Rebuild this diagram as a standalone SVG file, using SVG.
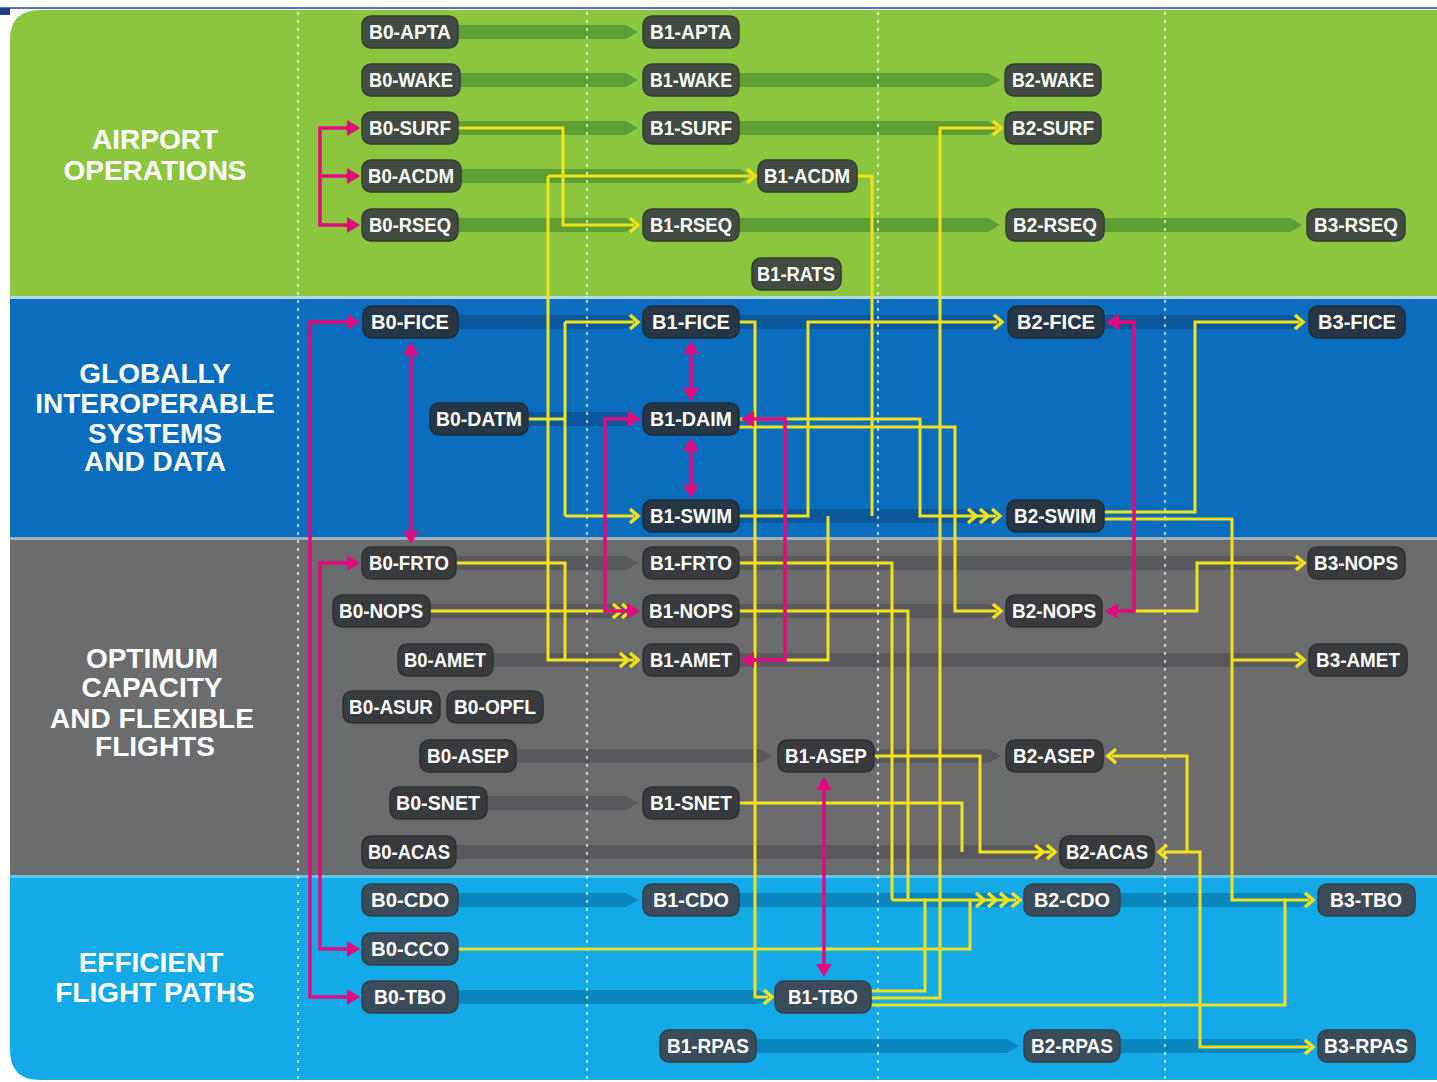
<svg xmlns="http://www.w3.org/2000/svg" xmlns:xlink="http://www.w3.org/1999/xlink" width="1437" height="1082" viewBox="0 0 1437 1082">
<style>
.nd text{font-family:"Liberation Sans",Arial,sans-serif;font-weight:bold;font-size:20px;fill:#fff;text-anchor:middle}
.lab{font-family:"Liberation Sans",Arial,sans-serif;font-weight:bold;font-size:28px;fill:#fff;text-anchor:middle}
.ng{fill:#414b41;stroke:#333b33;stroke-width:1.5}
.nb{fill:#263645;stroke:#1e2c3a;stroke-width:1.5}
.nk{fill:#393a3d;stroke:#2e2f31;stroke-width:1.5}
.nc{fill:#3a4c59;stroke:#2f3f4b;stroke-width:1.5}
.bg{fill:#5e9e32}.bb{fill:#0a579c}.bk{fill:#58595c}.bc{fill:#0a86be}
.dot{stroke:#fff;stroke-width:2;stroke-dasharray:3 5;opacity:.7}
.y{fill:none;stroke:#f2e21b;stroke-width:3;stroke-linejoin:miter}
.m{fill:none;stroke:#e5097f;stroke-width:3.5}
</style>
<defs>
<clipPath id="panel"><path d="M40,10 H1437 V1080 H40 Q10,1080 10,1050 V40 Q10,10 40,10 Z"/></clipPath>
<path id="cR" d="M-8,-7 L0,0 L-8,7" fill="none" stroke="#f2e21b" stroke-width="3.5"/>
<path id="cL" d="M8,-7 L0,0 L8,7" fill="none" stroke="#f2e21b" stroke-width="3.5"/>
<path id="tR" d="M-13,-8 L0,0 L-13,8 Z" fill="#e5097f"/>
<path id="tL" d="M13,-8 L0,0 L13,8 Z" fill="#e5097f"/>
<path id="tU" d="M-8,13 L0,0 L8,13 Z" fill="#e5097f"/>
<path id="tD" d="M-8,-13 L0,0 L8,-13 Z" fill="#e5097f"/>
</defs>
<rect width="1437" height="1082" fill="#ffffff"/>
<line x1="0" y1="8" x2="1437" y2="8" stroke="#1f3f8f" stroke-width="1.5"/>
<rect x="0" y="8" width="10" height="7" fill="#1f3f8f"/>

<g id="bands" clip-path="url(#panel)">
<rect x="0" y="0" width="1437" height="298" fill="#8cc63f"/>
<rect x="0" y="298" width="1437" height="240" fill="#0b6dbd"/>
<rect x="0" y="538" width="1437" height="338" fill="#6b6c6e"/>
<rect x="0" y="876" width="1437" height="206" fill="#14aae8"/>
<rect x="0" y="296" width="1437" height="3" fill="#b3dbe6"/>
<rect x="0" y="537" width="1437" height="3" fill="#9fb0bd"/>
<rect x="0" y="875" width="1437" height="3" fill="#5cc8ee"/>
</g>

<g id="sections">
<text class="lab" x="155" y="149">AIRPORT</text>
<text class="lab" x="155" y="180">OPERATIONS</text>
<text class="lab" x="155" y="383">GLOBALLY</text>
<text class="lab" x="155" y="413">INTEROPERABLE</text>
<text class="lab" x="155" y="443">SYSTEMS</text>
<text class="lab" x="155" y="471">AND DATA</text>
<text class="lab" x="152" y="668">OPTIMUM</text>
<text class="lab" x="152" y="697">CAPACITY</text>
<text class="lab" x="152" y="728">AND FLEXIBLE</text>
<text class="lab" x="155" y="756">FLIGHTS</text>
<text class="lab" x="151" y="972">EFFICIENT</text>
<text class="lab" x="155" y="1002">FLIGHT PATHS</text>
</g>

<g id="bars">
<path class="bg" d="M458,25 H626 L638,32 L626,39 H458 Z"/>
<path class="bg" d="M460,73 H626 L638,80 L626,87 H460 Z"/>
<path class="bg" d="M739,73 H988 L1000,80 L988,87 H739 Z"/>
<path class="bg" d="M458,121 H626 L638,128 L626,135 H458 Z"/>
<path class="bg" d="M739,121 H988 L1000,128 L988,135 H739 Z"/>
<path class="bg" d="M460,169 H740 L752,176 L740,183 H460 Z"/>
<path class="bg" d="M458,218 H626 L638,225 L626,232 H458 Z"/>
<path class="bg" d="M739,218 H988 L1000,225 L988,232 H739 Z"/>
<path class="bg" d="M1104,218 H1290 L1302,225 L1290,232 H1104 Z"/>
<path class="bb" d="M458,315 H626 L638,322 L626,329 H458 Z"/>
<path class="bb" d="M739,315 H991 L1003,322 L991,329 H739 Z"/>
<path class="bb" d="M1104,315 H1292 L1304,322 L1292,329 H1104 Z"/>
<path class="bb" d="M528,412 H626 L638,419 L626,426 H528 Z"/>
<path class="bb" d="M739,509 H990 L1002,516 L990,523 H739 Z"/>
<path class="bk" d="M456,556 H626 L638,563 L626,570 H456 Z"/>
<path class="bk" d="M739,556 H1291 L1303,563 L1291,570 H739 Z"/>
<path class="bk" d="M430,604 H626 L638,611 L626,618 H430 Z"/>
<path class="bk" d="M739,604 H989 L1001,611 L989,618 H739 Z"/>
<path class="bk" d="M493,653 H626 L638,660 L626,667 H493 Z"/>
<path class="bk" d="M739,653 H1292 L1304,660 L1292,667 H739 Z"/>
<path class="bk" d="M516,749 H760 L772,756 L760,763 H516 Z"/>
<path class="bk" d="M874,749 H989 L1001,756 L989,763 H874 Z"/>
<path class="bk" d="M487,796 H626 L638,803 L626,810 H487 Z"/>
<path class="bk" d="M456,845 H1043 L1055,852 L1043,859 H456 Z"/>
<path class="bc" d="M458,893 H626 L638,900 L626,907 H458 Z"/>
<path class="bc" d="M739,893 H1007 L1019,900 L1007,907 H739 Z"/>
<path class="bc" d="M1120,893 H1301 L1313,900 L1301,907 H1120 Z"/>
<path class="bc" d="M458,990 H758 L770,997 L758,1004 H458 Z"/>
<path class="bc" d="M756,1039 H1007 L1019,1046 L1007,1053 H756 Z"/>
<path class="bc" d="M1120,1039 H1301 L1313,1046 L1301,1053 H1120 Z"/>
</g>

<g id="columns">
<line class="dot" x1="298" y1="12" x2="298" y2="1080"/>
<line class="dot" x1="587" y1="12" x2="587" y2="1080"/>
<line class="dot" x1="878" y1="12" x2="878" y2="1080"/>
<line class="dot" x1="1165" y1="12" x2="1165" y2="1080"/>
</g>

<g id="connectors">
<g id="yellow">
<path class="y" d="M458,128 H563 V225 H634"/>
<path class="y" d="M528,419 H565 M565,322 V516 M565,322 H634 M565,516 H634"/>
<path class="y" d="M548,176 H751 M548,176 V660 H634"/>
<path class="y" d="M456,563 H565 V660"/>
<path class="y" d="M430,611 H620"/>
<path class="y" d="M739,322 H755 V997 H768"/>
<path class="y" d="M739,516 H808 V322 H997"/>
<path class="y" d="M739,419 H920 V516 H996"/>
<path class="y" d="M739,427 H955 V611 H997"/>
<path class="y" d="M857,176 H872 V516"/>
<path class="y" d="M785,660 H828 V516"/>
<path class="y" d="M871,998 H940 V128 H997"/>
<path class="y" d="M871,991 H925 V900"/>
<path class="y" d="M871,1005 H1285 V900"/>
<path class="y" d="M739,563 H892 V900"/>
<path class="y" d="M739,611 H908 V900"/>
<path class="y" d="M458,949 H970 V900"/>
<path class="y" d="M892,900 H1016"/>
<path class="y" d="M874,756 H980 V852 H1051"/>
<path class="y" d="M739,803 H962 V852"/>
<path class="y" d="M1104,512 H1195 V322 H1299"/>
<path class="y" d="M1104,519 H1232 V900 H1309 M1232,660 H1300"/>
<path class="y" d="M1134,611 H1197 V563 H1300"/>
<path class="y" d="M1163,852 H1200 V1047 H1309 M1187,852 V756 H1112"/>
<use xlink:href="#cR" x="638" y="225"/>
<use xlink:href="#cR" x="638" y="322"/>
<use xlink:href="#cR" x="638" y="516"/>
<use xlink:href="#cR" x="755" y="176"/>
<use xlink:href="#cR" x="1001" y="128"/>
<use xlink:href="#cR" x="1002" y="322"/>
<use xlink:href="#cR" x="1303" y="322"/>
<use xlink:href="#cR" x="976" y="516"/>
<use xlink:href="#cR" x="988" y="516"/>
<use xlink:href="#cR" x="1000" y="516"/>
<use xlink:href="#cR" x="621" y="611"/>
<use xlink:href="#cR" x="630" y="611"/>
<use xlink:href="#cR" x="628" y="660"/>
<use xlink:href="#cR" x="638" y="660"/>
<use xlink:href="#cR" x="1001" y="611"/>
<use xlink:href="#cR" x="1304" y="563"/>
<use xlink:href="#cR" x="1304" y="660"/>
<use xlink:href="#cL" x="1108" y="756"/>
<use xlink:href="#cR" x="1043" y="852"/>
<use xlink:href="#cR" x="1055" y="852"/>
<use xlink:href="#cL" x="1159" y="852"/>
<use xlink:href="#cR" x="984" y="900"/>
<use xlink:href="#cR" x="996" y="900"/>
<use xlink:href="#cR" x="1008" y="900"/>
<use xlink:href="#cR" x="1020" y="900"/>
<use xlink:href="#cR" x="1313" y="900"/>
<use xlink:href="#cR" x="772" y="997"/>
<use xlink:href="#cR" x="1313" y="1047"/>
</g>
<g id="magenta">
<path class="m" d="M348,128 H320 V225 H348 M320,176 H348"/>
<path class="m" d="M348,322 H310 V997 H348"/>
<path class="m" d="M348,563 H320 V949 H348"/>
<path class="m" d="M411,352 V533"/>
<path class="m" d="M691,352 V390 M691,449 V487"/>
<path class="m" d="M629,419 H605 V611 H629"/>
<path class="m" d="M752,419 H785 V660 H752"/>
<path class="m" d="M1117,322 H1134 V611 H1116"/>
<path class="m" d="M824,788 V966"/>
<use xlink:href="#tR" x="360" y="128"/>
<use xlink:href="#tR" x="360" y="176"/>
<use xlink:href="#tR" x="360" y="225"/>
<use xlink:href="#tR" x="360" y="322"/>
<use xlink:href="#tR" x="360" y="997"/>
<use xlink:href="#tR" x="360" y="563"/>
<use xlink:href="#tR" x="360" y="949"/>
<use xlink:href="#tU" x="411" y="342"/>
<use xlink:href="#tD" x="411" y="544"/>
<use xlink:href="#tU" x="691" y="341"/>
<use xlink:href="#tD" x="691" y="401"/>
<use xlink:href="#tU" x="691" y="438"/>
<use xlink:href="#tD" x="691" y="498"/>
<use xlink:href="#tR" x="641" y="419"/>
<use xlink:href="#tR" x="640" y="611"/>
<use xlink:href="#tL" x="741" y="419"/>
<use xlink:href="#tL" x="741" y="660"/>
<use xlink:href="#tL" x="1106" y="322"/>
<use xlink:href="#tL" x="1105" y="611"/>
<use xlink:href="#tU" x="824" y="777"/>
<use xlink:href="#tD" x="824" y="977"/>
</g>
</g>

<g id="nodes" class="nd">
<g id="B0-APTA"><rect class="ng" x="362" y="16" width="96" height="32" rx="9"/><text x="410" y="39" textLength="82" lengthAdjust="spacingAndGlyphs">B0-APTA</text></g>
<g id="B1-APTA"><rect class="ng" x="643" y="16" width="96" height="32" rx="9"/><text x="691" y="39" textLength="82" lengthAdjust="spacingAndGlyphs">B1-APTA</text></g>
<g id="B0-WAKE"><rect class="ng" x="362" y="64" width="98" height="32" rx="9"/><text x="411" y="87" textLength="84" lengthAdjust="spacingAndGlyphs">B0-WAKE</text></g>
<g id="B1-WAKE"><rect class="ng" x="643" y="64" width="96" height="32" rx="9"/><text x="691" y="87" textLength="82" lengthAdjust="spacingAndGlyphs">B1-WAKE</text></g>
<g id="B2-WAKE"><rect class="ng" x="1005" y="64" width="96" height="32" rx="9"/><text x="1053" y="87" textLength="82" lengthAdjust="spacingAndGlyphs">B2-WAKE</text></g>
<g id="B0-SURF"><rect class="ng" x="362" y="112" width="96" height="32" rx="9"/><text x="410" y="135" textLength="82" lengthAdjust="spacingAndGlyphs">B0-SURF</text></g>
<g id="B1-SURF"><rect class="ng" x="643" y="112" width="96" height="32" rx="9"/><text x="691" y="135" textLength="82" lengthAdjust="spacingAndGlyphs">B1-SURF</text></g>
<g id="B2-SURF"><rect class="ng" x="1005" y="112" width="96" height="32" rx="9"/><text x="1053" y="135" textLength="82" lengthAdjust="spacingAndGlyphs">B2-SURF</text></g>
<g id="B0-ACDM"><rect class="ng" x="362" y="160" width="99" height="32" rx="9"/><text x="411" y="183" textLength="86" lengthAdjust="spacingAndGlyphs">B0-ACDM</text></g>
<g id="B1-ACDM"><rect class="ng" x="758" y="160" width="99" height="32" rx="9"/><text x="807" y="183" textLength="86" lengthAdjust="spacingAndGlyphs">B1-ACDM</text></g>
<g id="B0-RSEQ"><rect class="ng" x="362" y="209" width="96" height="32" rx="9"/><text x="410" y="232" textLength="82" lengthAdjust="spacingAndGlyphs">B0-RSEQ</text></g>
<g id="B1-RSEQ"><rect class="ng" x="643" y="209" width="96" height="32" rx="9"/><text x="691" y="232" textLength="82" lengthAdjust="spacingAndGlyphs">B1-RSEQ</text></g>
<g id="B2-RSEQ"><rect class="ng" x="1006" y="209" width="98" height="32" rx="9"/><text x="1055" y="232" textLength="84" lengthAdjust="spacingAndGlyphs">B2-RSEQ</text></g>
<g id="B3-RSEQ"><rect class="ng" x="1307" y="209" width="98" height="32" rx="9"/><text x="1356" y="232" textLength="84" lengthAdjust="spacingAndGlyphs">B3-RSEQ</text></g>
<g id="B1-RATS"><rect class="ng" x="752" y="258" width="89" height="32" rx="9"/><text x="796" y="281" textLength="78" lengthAdjust="spacingAndGlyphs">B1-RATS</text></g>

<g id="B0-FICE"><rect class="nb" x="363" y="306" width="95" height="32" rx="9"/><text x="410" y="329" textLength="78" lengthAdjust="spacingAndGlyphs">B0-FICE</text></g>
<g id="B1-FICE"><rect class="nb" x="643" y="306" width="96" height="32" rx="9"/><text x="691" y="329" textLength="78" lengthAdjust="spacingAndGlyphs">B1-FICE</text></g>
<g id="B2-FICE"><rect class="nb" x="1008" y="306" width="96" height="32" rx="9"/><text x="1056" y="329" textLength="78" lengthAdjust="spacingAndGlyphs">B2-FICE</text></g>
<g id="B3-FICE"><rect class="nb" x="1309" y="306" width="96" height="32" rx="9"/><text x="1357" y="329" textLength="78" lengthAdjust="spacingAndGlyphs">B3-FICE</text></g>
<g id="B0-DATM"><rect class="nb" x="430" y="403" width="98" height="32" rx="9"/><text x="479" y="426" textLength="86" lengthAdjust="spacingAndGlyphs">B0-DATM</text></g>
<g id="B1-DAIM"><rect class="nb" x="643" y="403" width="96" height="32" rx="9"/><text x="691" y="426" textLength="82" lengthAdjust="spacingAndGlyphs">B1-DAIM</text></g>
<g id="B1-SWIM"><rect class="nb" x="643" y="500" width="96" height="32" rx="9"/><text x="691" y="523" textLength="82" lengthAdjust="spacingAndGlyphs">B1-SWIM</text></g>
<g id="B2-SWIM"><rect class="nb" x="1007" y="500" width="97" height="32" rx="9"/><text x="1055" y="523" textLength="82" lengthAdjust="spacingAndGlyphs">B2-SWIM</text></g>

<g id="B0-FRTO"><rect class="nk" x="362" y="547" width="94" height="32" rx="9"/><text x="409" y="570" textLength="80" lengthAdjust="spacingAndGlyphs">B0-FRTO</text></g>
<g id="B1-FRTO"><rect class="nk" x="643" y="547" width="96" height="32" rx="9"/><text x="691" y="570" textLength="82" lengthAdjust="spacingAndGlyphs">B1-FRTO</text></g>
<g id="B3-NOPS"><rect class="nk" x="1308" y="547" width="97" height="32" rx="9"/><text x="1356" y="570" textLength="84" lengthAdjust="spacingAndGlyphs">B3-NOPS</text></g>
<g id="B0-NOPS"><rect class="nk" x="333" y="595" width="97" height="32" rx="9"/><text x="381" y="618" textLength="84" lengthAdjust="spacingAndGlyphs">B0-NOPS</text></g>
<g id="B1-NOPS"><rect class="nk" x="643" y="595" width="96" height="32" rx="9"/><text x="691" y="618" textLength="84" lengthAdjust="spacingAndGlyphs">B1-NOPS</text></g>
<g id="B2-NOPS"><rect class="nk" x="1006" y="595" width="96" height="32" rx="9"/><text x="1054" y="618" textLength="84" lengthAdjust="spacingAndGlyphs">B2-NOPS</text></g>
<g id="B0-AMET"><rect class="nk" x="398" y="644" width="95" height="32" rx="9"/><text x="445" y="667" textLength="82" lengthAdjust="spacingAndGlyphs">B0-AMET</text></g>
<g id="B1-AMET"><rect class="nk" x="643" y="644" width="96" height="32" rx="9"/><text x="691" y="667" textLength="82" lengthAdjust="spacingAndGlyphs">B1-AMET</text></g>
<g id="B3-AMET"><rect class="nk" x="1309" y="644" width="98" height="32" rx="9"/><text x="1358" y="667" textLength="84" lengthAdjust="spacingAndGlyphs">B3-AMET</text></g>
<g id="B0-ASUR"><rect class="nk" x="343" y="691" width="97" height="32" rx="9"/><text x="391" y="714" textLength="84" lengthAdjust="spacingAndGlyphs">B0-ASUR</text></g>
<g id="B0-OPFL"><rect class="nk" x="447" y="691" width="96" height="32" rx="9"/><text x="495" y="714" textLength="82" lengthAdjust="spacingAndGlyphs">B0-OPFL</text></g>
<g id="B0-ASEP"><rect class="nk" x="420" y="740" width="96" height="32" rx="9"/><text x="468" y="763" textLength="82" lengthAdjust="spacingAndGlyphs">B0-ASEP</text></g>
<g id="B1-ASEP"><rect class="nk" x="778" y="740" width="96" height="32" rx="9"/><text x="826" y="763" textLength="82" lengthAdjust="spacingAndGlyphs">B1-ASEP</text></g>
<g id="B2-ASEP"><rect class="nk" x="1006" y="740" width="97" height="32" rx="9"/><text x="1054" y="763" textLength="82" lengthAdjust="spacingAndGlyphs">B2-ASEP</text></g>
<g id="B0-SNET"><rect class="nk" x="390" y="787" width="97" height="32" rx="9"/><text x="438" y="810" textLength="84" lengthAdjust="spacingAndGlyphs">B0-SNET</text></g>
<g id="B1-SNET"><rect class="nk" x="643" y="787" width="96" height="32" rx="9"/><text x="691" y="810" textLength="82" lengthAdjust="spacingAndGlyphs">B1-SNET</text></g>
<g id="B0-ACAS"><rect class="nk" x="362" y="836" width="94" height="32" rx="9"/><text x="409" y="859" textLength="82" lengthAdjust="spacingAndGlyphs">B0-ACAS</text></g>
<g id="B2-ACAS"><rect class="nk" x="1060" y="836" width="94" height="32" rx="9"/><text x="1107" y="859" textLength="82" lengthAdjust="spacingAndGlyphs">B2-ACAS</text></g>

<g id="B0-CDO"><rect class="nc" x="362" y="884" width="96" height="32" rx="9"/><text x="410" y="907" textLength="78" lengthAdjust="spacingAndGlyphs">B0-CDO</text></g>
<g id="B1-CDO"><rect class="nc" x="643" y="884" width="96" height="32" rx="9"/><text x="691" y="907" textLength="76" lengthAdjust="spacingAndGlyphs">B1-CDO</text></g>
<g id="B2-CDO"><rect class="nc" x="1024" y="884" width="96" height="32" rx="9"/><text x="1072" y="907" textLength="76" lengthAdjust="spacingAndGlyphs">B2-CDO</text></g>
<g id="B3-TBO"><rect class="nc" x="1318" y="884" width="97" height="32" rx="9"/><text x="1366" y="907" textLength="72" lengthAdjust="spacingAndGlyphs">B3-TBO</text></g>
<g id="B0-CCO"><rect class="nc" x="362" y="933" width="96" height="32" rx="9"/><text x="410" y="956" textLength="78" lengthAdjust="spacingAndGlyphs">B0-CCO</text></g>
<g id="B0-TBO"><rect class="nc" x="362" y="981" width="96" height="32" rx="9"/><text x="410" y="1004" textLength="72" lengthAdjust="spacingAndGlyphs">B0-TBO</text></g>
<g id="B1-TBO"><rect class="nc" x="775" y="981" width="96" height="32" rx="9"/><text x="823" y="1004" textLength="70" lengthAdjust="spacingAndGlyphs">B1-TBO</text></g>
<g id="B1-RPAS"><rect class="nc" x="660" y="1030" width="96" height="32" rx="9"/><text x="708" y="1053" textLength="82" lengthAdjust="spacingAndGlyphs">B1-RPAS</text></g>
<g id="B2-RPAS"><rect class="nc" x="1024" y="1030" width="96" height="32" rx="9"/><text x="1072" y="1053" textLength="82" lengthAdjust="spacingAndGlyphs">B2-RPAS</text></g>
<g id="B3-RPAS"><rect class="nc" x="1318" y="1030" width="97" height="32" rx="9"/><text x="1366" y="1053" textLength="84" lengthAdjust="spacingAndGlyphs">B3-RPAS</text></g>
</g>
</svg>
